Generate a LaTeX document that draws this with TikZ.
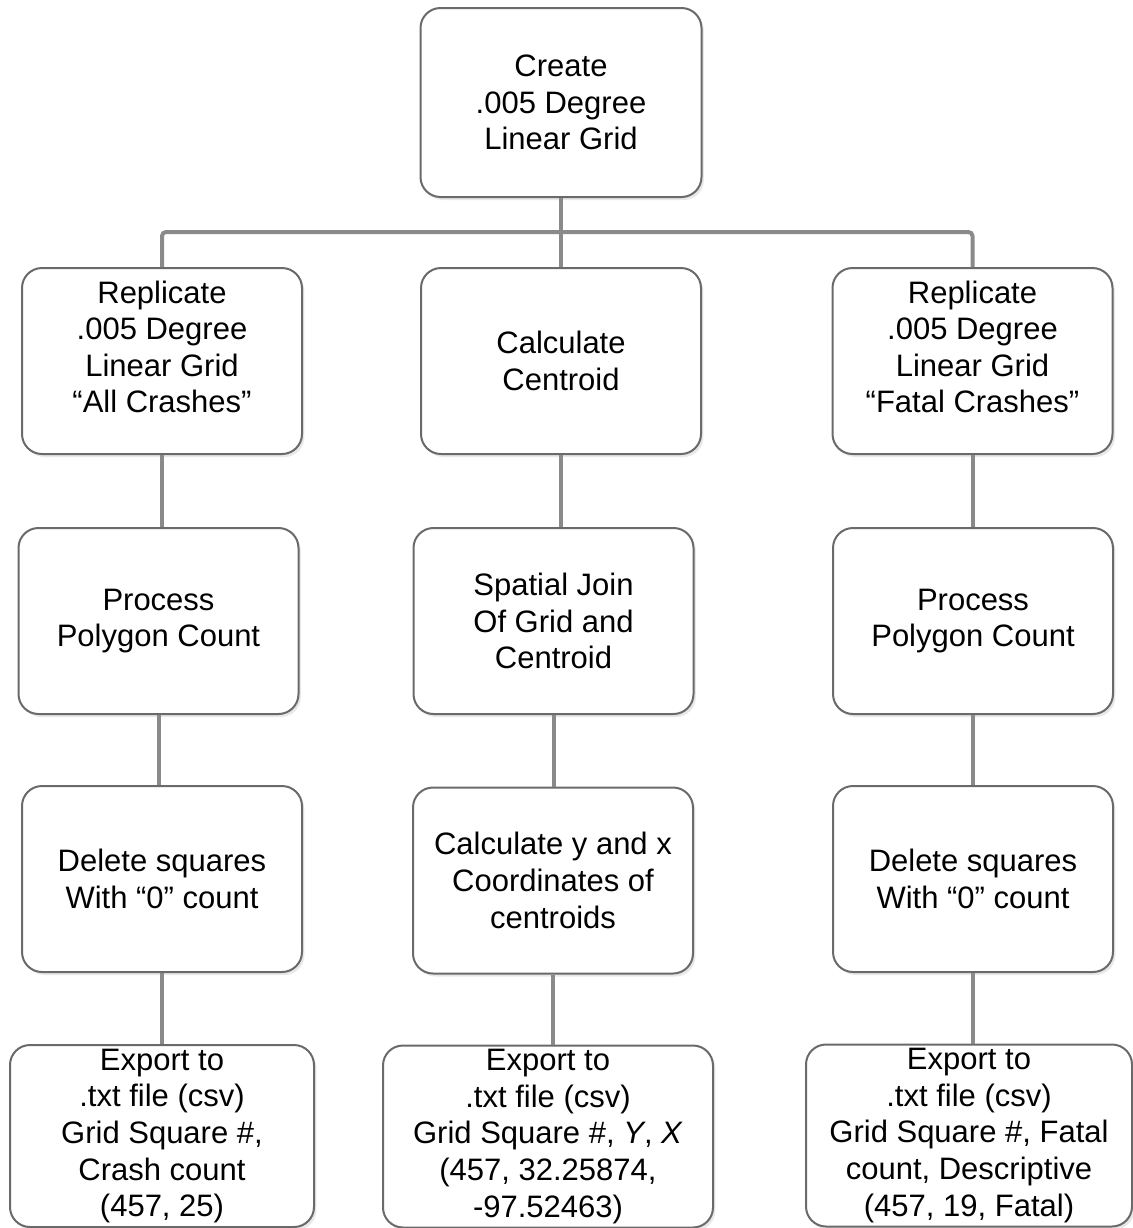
\documentclass[tikz,border=0pt]{standalone}
\usepackage{fontspec}
\setmainfont{Liberation Sans}
\usetikzlibrary{shadows}
\definecolor{boxline}{HTML}{6A6A6A}
\definecolor{linkline}{HTML}{8A8A8A}
\tikzset{
    flow/.style={
        x=0.5pt, y=-0.5pt,
        stepbox/.style={draw=boxline, line width=1pt, rounded corners=10pt,
            fill=white, align=center, inner sep=0pt,
            font=\fontsize{15.5}{18.3}\selectfont,
            minimum width=140pt, minimum height=93pt,
            drop shadow={shadow xshift=1.2pt, shadow yshift=-1.5pt, opacity=0.18}},
        exportbox/.style={stepbox, minimum height=91pt},
        link/.style={draw=linkline, line width=2pt, rounded corners=2pt},
    },
}

\begin{document}
\begin{tikzpicture}[flow]
    \useasboundingbox (0,0) rectangle (1133,1228);

    \coordinate (bus) at (561,232);

    \node[stepbox, minimum width=140.5pt, minimum height=94.5pt] (create) at (561,102.5)
        {Create\\.005 Degree\\Linear Grid};

    \node[stepbox] (repall)   at (162,361)   {Replicate\\.005 Degree\\Linear Grid\\“All Crashes”\\[-4pt]\mbox{}};
    \node[stepbox] (centroid) at (561,361)   {Calculate\\Centroid};
    \node[stepbox] (repfatal) at (972.5,361) {Replicate\\.005 Degree\\Linear Grid\\“Fatal Crashes”\\[-4pt]\mbox{}};

    \node[stepbox] (countall)   at (158.5,621) {Process\\Polygon  Count};
    \node[stepbox] (join)       at (553.5,621) {Spatial Join\\Of Grid and\\Centroid};
    \node[stepbox] (countfatal) at (973,621)   {Process\\Polygon  Count};

    \node[stepbox] (delall)   at (162,879)   {Delete  squares\\With “0” count};
    \node[stepbox] (coords)   at (553,880.5) {Calculate y and x\\Coordinates of\\centroids};
    \node[stepbox] (delfatal) at (973,879)   {Delete  squares\\With “0” count};

    \node[exportbox, minimum width=152pt] (expall)   at (162,1136)
        {Export to\\.txt file (csv)\\Grid Square \#,\\Crash count\\(457, 25)};
    \node[exportbox, minimum width=165pt] (expxy)    at (548,1136.5)
        {Export to\\.txt file (csv)\\Grid Square \#, \textit{Y}, \textit{X}\\(457, 32.25874,\\-97.52463)};
    \node[exportbox, minimum width=163pt] (expfatal) at (969,1135.5)
        {Export to\\.txt file (csv)\\Grid Square \#, Fatal\\count, Descriptive\\(457, 19, Fatal)};

    \draw[link] (create.south) -- (bus);
    \draw[link] (repall.north) |- (bus) -| (repfatal.north);
    \draw[link] (bus) -- (centroid.north);

    \foreach \a/\b in {repall/countall, countall/delall, delall/expall,
                       centroid/join, join/coords, coords/expxy,
                       repfatal/countfatal, countfatal/delfatal, delfatal/expfatal}
        \draw[link] (\a.south) -- (\a.south |- \b.north);
\end{tikzpicture}
\end{document}
